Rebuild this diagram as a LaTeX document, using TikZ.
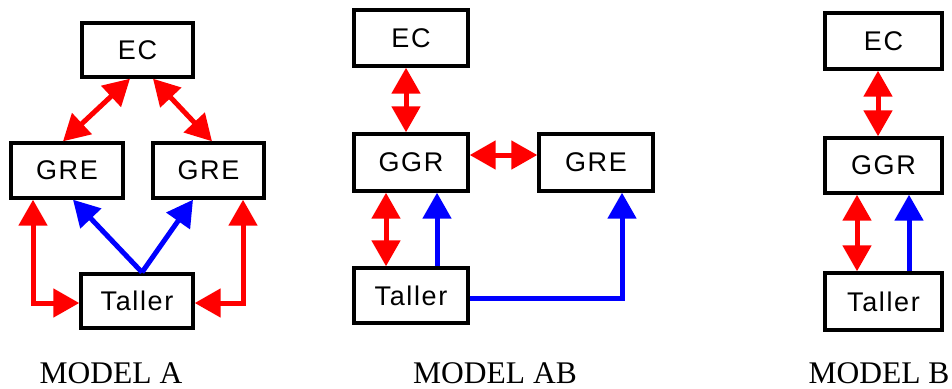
\documentclass[tikz,border=0pt]{standalone}
\usepackage{fontspec}
\setmainfont{Liberation Serif}
\newfontfamily\boxfont[LetterSpace=6]{Liberation Sans}
\usetikzlibrary{arrows.meta}
\begin{document}
\begin{tikzpicture}[x=1pt,y=-1pt,
  box/.style={draw=black,line width=3.4pt,fill=white,inner sep=0pt,
    font=\boxfont\fontsize{27}{27}\selectfont},
  redarr/.style={draw={rgb,255:red,255;green,0;blue,0},line width=5pt,
    {Triangle[length=26pt,width=28pt]}-{Triangle[length=26pt,width=28pt]}},
  bluearr/.style={draw={rgb,255:red,0;green,0;blue,255},line width=5pt,
    -{Triangle[length=26pt,width=28pt]}},
  caption/.style={font=\fontsize{31.5}{31.5}\selectfont,anchor=base,inner sep=0pt,text depth=0pt}]
\useasboundingbox (0,0) rectangle (952,388);
% Model A
\node[box,minimum width=111pt,minimum height=54pt] (ECa) at (137.5,50) {EC};
\node[box,minimum width=112pt,minimum height=55pt] (GREl) at (67,170.5) {GRE};
\node[box,minimum width=111pt,minimum height=55pt] (GREr) at (208.5,170.5) {GRE};
\node[box,minimum width=112pt,minimum height=54pt] (Ta) at (137,301) {Taller};
\draw[redarr] ([xshift=-7.5pt]ECa.south) -- ([xshift=-4pt]GREl.north);
\draw[redarr] ([xshift=15.5pt]ECa.south) -- ([xshift=3.5pt]GREr.north);
\draw[bluearr] ([xshift=5pt]Ta.north) -- ([xshift=6pt]GREl.south);
\draw[bluearr] ([xshift=5pt]Ta.north) -- ([xshift=-15.5pt]GREr.south);
\draw[redarr] ([xshift=-34pt]GREl.south) |- ([yshift=-2pt]Ta.west);
\draw[redarr] ([xshift=34.5pt]GREr.south) |- ([yshift=-2pt]Ta.east);
\node[caption] (capA) at (111,383) {MODEL A};
% Model AB
\node[box,minimum width=114pt,minimum height=56pt] (ECab) at (411,38) {EC};
\node[box,minimum width=114pt,minimum height=57pt] (GGRab) at (411,162.5) {GGR};
\node[box,minimum width=114pt,minimum height=57pt] (GREab) at (596,162.5) {GRE};
\node[box,minimum width=114pt,minimum height=55pt] (Tab) at (411,295.5) {Taller};
\draw[redarr] ([xshift=-5pt]ECab.south) -- ([xshift=-5pt]GGRab.north);
\draw[redarr] ([yshift=7.5pt]GGRab.east) -- ([yshift=7.5pt]GREab.west);
\draw[redarr] ([xshift=-25pt]GGRab.south) -- ([xshift=-25pt]Tab.north);
\draw[bluearr] ([xshift=26pt]Tab.north) -- ([xshift=26pt]GGRab.south);
\draw[bluearr] ([yshift=-2.5pt]Tab.east) -| ([xshift=26pt]GREab.south);
\node[caption] (capAB) at (495,383) {MODEL AB};
% Model B
\node[box,minimum width=117pt,minimum height=56pt] (ECb) at (883.5,41) {EC};
\node[box,minimum width=117pt,minimum height=55pt] (GGRb) at (883.5,165.5) {GGR};
\node[box,minimum width=117pt,minimum height=57pt] (Tb) at (883.5,301.5) {Taller};
\draw[redarr] ([xshift=-5.5pt]ECb.south) -- ([xshift=-5.5pt]GGRb.north);
\draw[redarr] ([xshift=-26.5pt]GGRb.south) -- ([xshift=-26.5pt]Tb.north);
\draw[bluearr] ([xshift=25.5pt]Tb.north) -- ([xshift=25.5pt]GGRb.south);
\node[caption] (capB) at (879,383) {MODEL B};
\end{tikzpicture}
\end{document}
